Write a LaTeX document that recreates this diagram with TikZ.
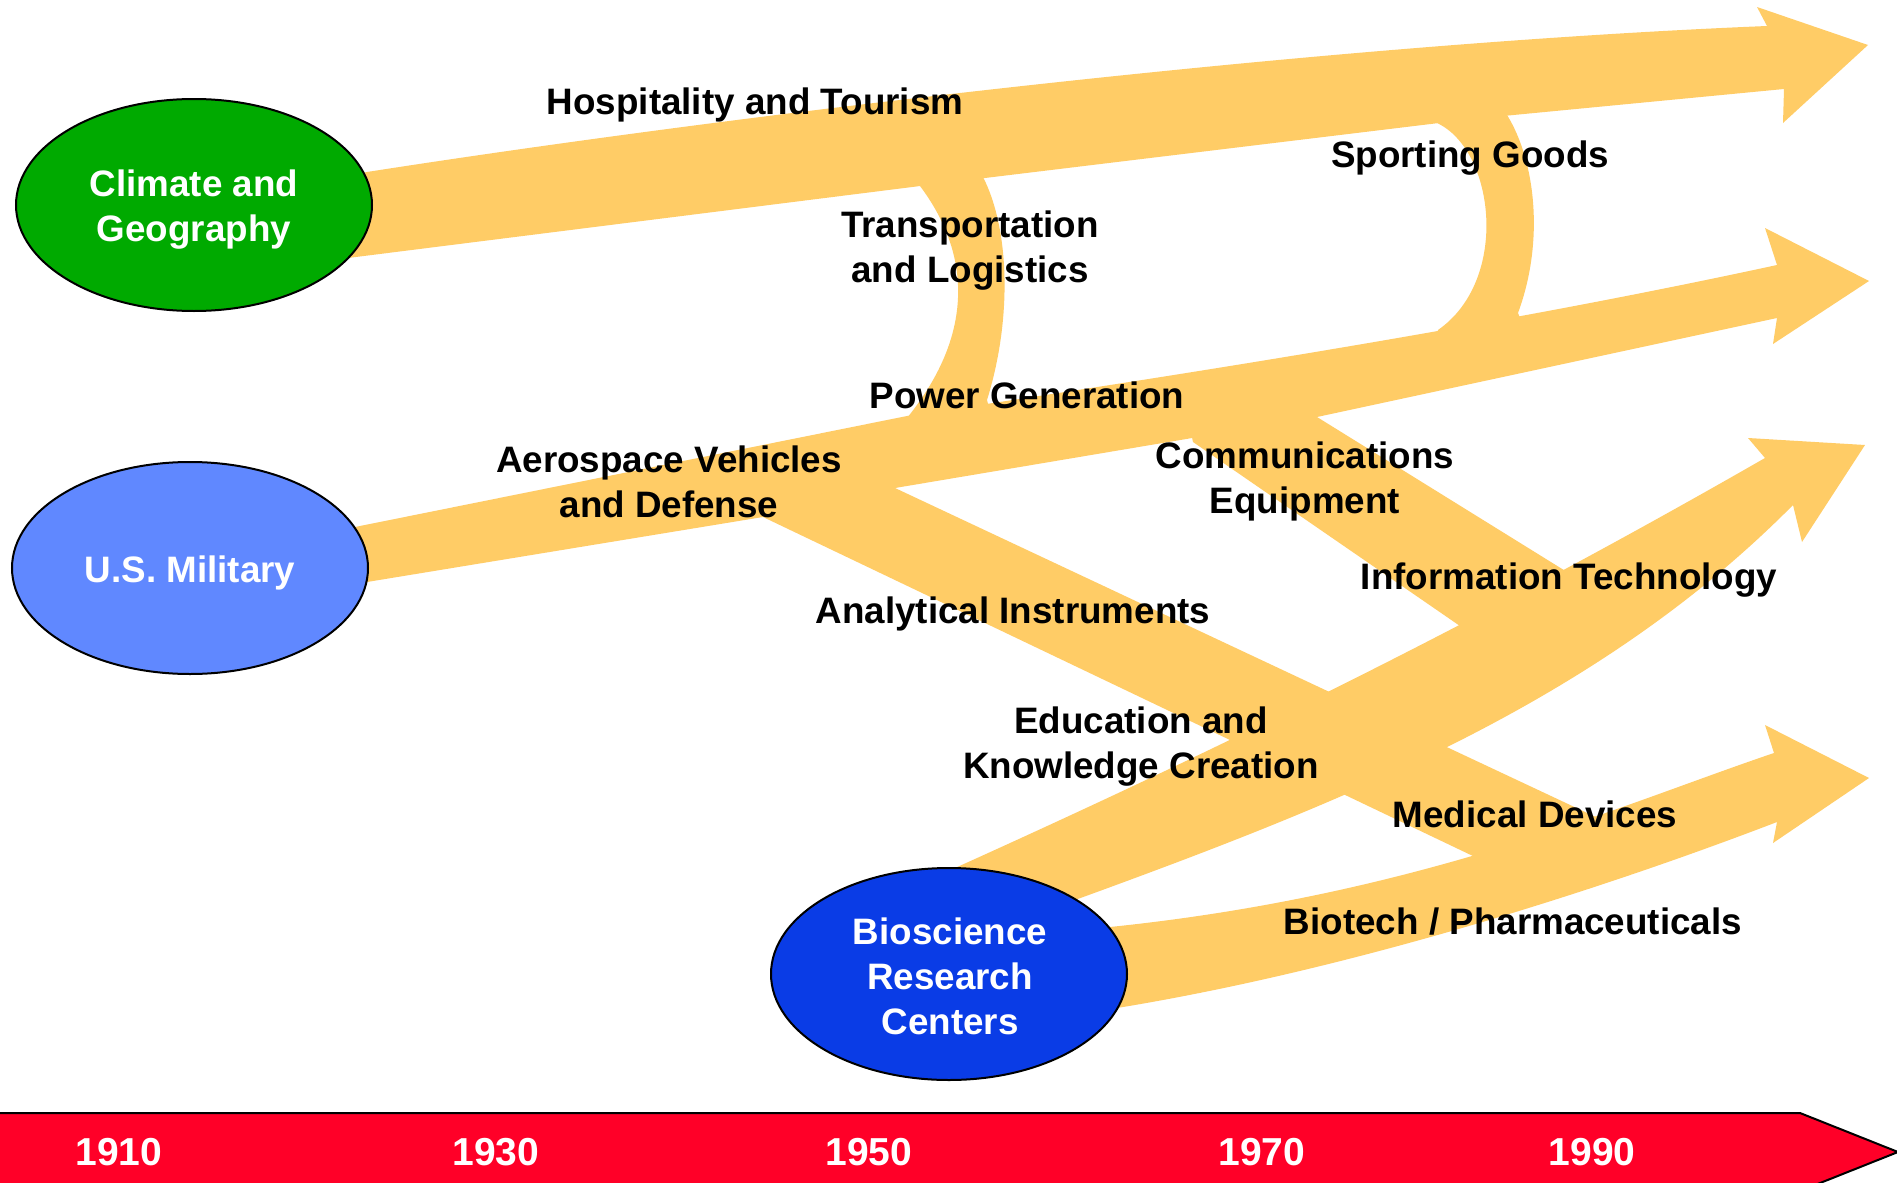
\documentclass[tikz,border=0pt]{standalone}
\usepackage{fontspec}
\setmainfont{Liberation Sans}
\usetikzlibrary{shapes.geometric}
\definecolor{band}{HTML}{FFCC66}
\definecolor{climate}{HTML}{00AA00}
\definecolor{military}{HTML}{6088FF}
\definecolor{bio}{HTML}{0A3CE6}
\definecolor{barred}{HTML}{FF0028}
\tikzset{
  lbl/.style={font=\fontsize{18.4}{22.5}\selectfont\bfseries, align=center, inner sep=0pt},
  wlbl/.style={lbl, text=white},
  src/.style={ellipse, draw=black, line width=1pt, minimum width=178pt, minimum height=106pt, inner sep=0pt},
  yearlbl/.style={font=\fontsize{19.5}{22}\selectfont\bfseries, text=white, inner sep=0pt},
  flow/.style={fill=band}
}
\begin{document}
\begin{tikzpicture}[x=0.5pt,y=-0.5pt]
\useasboundingbox (0,0) rectangle (1897,1183);
\fill[white] (0,0) rectangle (1897,1183);

% Hospitality and Tourism band
\fill[flow] (330,262) -- (330,180) -- (367,172) .. controls (700,120) and (1300,45) .. (1767,26)
  -- (1757,7) -- (1868,45) -- (1783,123) -- (1784,89) -- (1472,119) -- (952,182) -- (348,258) -- cycle;
% Power Generation band
\fill[flow] (340,585) -- (340,530) -- (355,527) -- (907,416) .. controls (1200,372) and (1500,325) .. (1777,265)
  -- (1765,228) -- (1869,281) -- (1773,344) -- (1777,318) -- (1317,417) -- (895,488) -- (763,517) -- (367,582) -- cycle;
% Transportation arc
\fill[flow] (915,175) -- (920,186) .. controls (968,250) and (978,330) .. (907,418) -- (905,430) -- (990,412)
  -- (987,400) .. controls (1012,320) and (1010,230) .. (983,177) -- (985,165) -- cycle;
% Sporting Goods arc
\fill[flow] (1430,115) -- (1437,123) .. controls (1495,150) and (1510,280) .. (1438,330) -- (1435,345) -- (1525,330)
  -- (1518,313) .. controls (1545,240) and (1535,160) .. (1507,115) -- (1505,105) -- cycle;
% Analytical / Medical band
\fill[flow] (760,505) -- (890,480) -- (895,488) -- (1600,819) -- (1640,860) -- (1475,857) -- (763,517) -- cycle;
% Biotech band
\fill[flow] (1090,935) -- (1110,927) .. controls (1420,895) and (1620,805) .. (1774,753)
  -- (1765,725) -- (1869,778) -- (1773,843) -- (1777,822) .. controls (1600,890) and (1350,970) .. (1117,1008) -- (1095,1010) -- cycle;
% Education / IT band
\fill[flow] (955,900) -- (955,868) .. controls (1250,735) and (1500,610) .. (1765,458)
  -- (1748,438) -- (1865,445) -- (1802,542) -- (1793,505) .. controls (1600,700) and (1350,800) .. (1075,900) -- (1060,930) -- cycle;
% Communications band
\fill[flow] (1190,428) -- (1317,410) -- (1317,417) -- (1567,572) -- (1560,620) -- (1460,626) -- (1193,442) -- cycle;

% Source ellipses
\node[src, fill=climate] (climate) at (194,205) {};
\node[wlbl] (climatetxt) at (194,210) {Climate and\\Geography};
\node[src, fill=military] (military) at (190,568) {};
\node[wlbl] (militarytxt) at (190,573) {U.S. Military};
\node[src, fill=bio] (bio) at (949,974) {};
\node[wlbl] (biotxt) at (950,976) {Bioscience\\Research\\Centers};

% Cluster labels
\node[lbl] (hosp) at (755,105) {Hospitality and Tourism};
\node[lbl] (sport) at (1470,158) {Sporting Goods};
\node[lbl] (trans) at (970,251) {Transportation\\and Logistics};
\node[lbl] (power) at (1027,395) {Power Generation};
\node[lbl] (aero) at (669,482) {Aerospace Vehicles\\and Defense};
\node[lbl] (comm) at (1305,481) {Communications\\Equipment};
\node[lbl] (it) at (1569,580) {Information Technology};
\node[lbl] (anal) at (1013,614) {Analytical Instruments};
\node[lbl] (edu) at (1141,747) {Education and\\Knowledge Creation};
\node[lbl] (med) at (1535,814) {Medical Devices};
\node[lbl] (biotech) at (1513,922) {Biotech / Pharmaceuticals};

% Timeline bar
\draw[fill=barred, line width=1pt] (-5,1113) -- (1800,1113) -- (1898,1152) -- (1800,1191) -- (-5,1191) -- cycle;
\node[yearlbl] (y1910) at (119,1152) {1910};
\node[yearlbl] (y1930) at (496,1152) {1930};
\node[yearlbl] (y1950) at (869,1152) {1950};
\node[yearlbl] (y1970) at (1262,1152) {1970};
\node[yearlbl] (y1990) at (1592,1152) {1990};
\end{tikzpicture}
\end{document}
